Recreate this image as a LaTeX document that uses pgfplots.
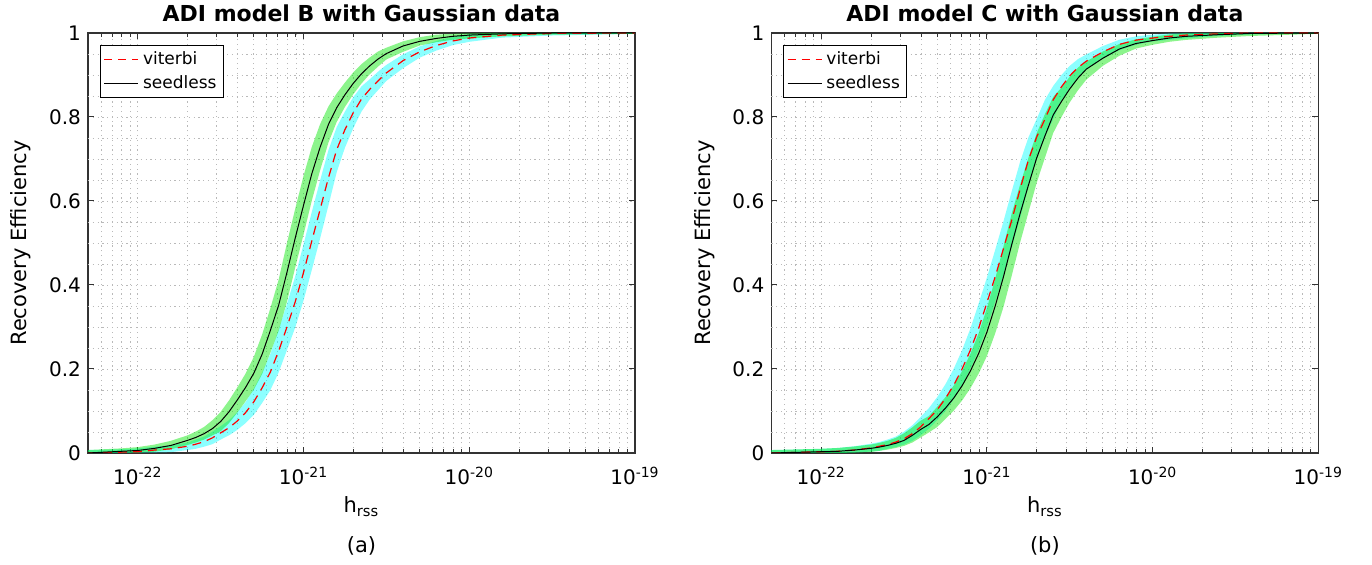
\documentclass[border=0pt]{standalone}
\usepackage{fontspec}
\setmainfont{DejaVu Sans}
\usepackage{pgfplots}
\usepackage{pgfplotstable}
\pgfplotsset{compat=1.18}

\definecolor{bandg}{RGB}{0,230,0}
\definecolor{bandc}{RGB}{0,255,255}

% recovery efficiency vs h_rss, S = seedless, V = viterbi, lo/hi = band edges
\pgfplotstableread{
h         S      Slo     Shi     V      Vlo     Vhi
5e-23     0.000  0.000   0.007   0.000  0.000   0.007
6.310e-23 0.002  0.000   0.009   0.001  0.000   0.008
7.943e-23 0.004  0.001   0.011   0.002  0.000   0.009
1e-22     0.006  0.001   0.014   0.003  0.001   0.011
1.259e-22 0.011  0.003   0.020   0.007  0.001   0.015
1.585e-22 0.018  0.009   0.029   0.010  0.002   0.018
1.995e-22 0.030  0.019   0.042   0.016  0.007   0.025
2.239e-22 0.037  0.025   0.051   0.021  0.010   0.032
2.512e-22 0.046  0.032   0.062   0.027  0.015   0.039
2.818e-22 0.058  0.042   0.078   0.036  0.021   0.051
3.162e-22 0.075  0.052   0.098   0.048  0.032   0.064
3.548e-22 0.098  0.071   0.125   0.060  0.042   0.078
3.981e-22 0.126  0.096   0.156   0.076  0.055   0.097
4.467e-22 0.156  0.123   0.189   0.096  0.071   0.121
5.012e-22 0.190  0.151   0.229   0.122  0.091   0.153
5.623e-22 0.235  0.188   0.282   0.155  0.119   0.191
6.310e-22 0.292  0.239   0.345   0.193  0.150   0.236
7.079e-22 0.352  0.291   0.413   0.243  0.192   0.294
7.943e-22 0.430  0.360   0.500   0.300  0.245   0.355
8.913e-22 0.512  0.442   0.582   0.360  0.299   0.421
1e-21     0.590  0.520   0.660   0.430  0.363   0.497
1.122e-21 0.665  0.601   0.729   0.505  0.436   0.574
1.259e-21 0.728  0.673   0.783   0.580  0.511   0.649
1.413e-21 0.782  0.739   0.825   0.655  0.589   0.721
1.585e-21 0.822  0.788   0.856   0.722  0.668   0.776
1.778e-21 0.853  0.824   0.882   0.770  0.727   0.813
1.995e-21 0.880  0.854   0.906   0.810  0.773   0.847
2.239e-21 0.903  0.880   0.926   0.843  0.813   0.873
2.512e-21 0.922  0.902   0.942   0.866  0.842   0.890
2.818e-21 0.938  0.920   0.956   0.886  0.864   0.908
3.162e-21 0.951  0.937   0.965   0.905  0.886   0.924
3.981e-21 0.969  0.955   0.980   0.934  0.916   0.949
5.012e-21 0.980  0.970   0.990   0.955  0.941   0.968
6.310e-21 0.987  0.978   0.996   0.970  0.958   0.981
7.943e-21 0.992  0.984   0.998   0.981  0.971   0.991
1e-20     0.995  0.987   0.999   0.988  0.979   0.997
1.585e-20 0.998  0.992   1.000   0.995  0.989   0.999
3.162e-20 1.000  0.996   1.000   0.999  0.994   1.000
1e-19     1.000  0.998   1.000   1.000  0.998   1.000
}\tabB

\pgfplotstableread{
h         S      Slo     Shi     V      Vlo     Vhi
5e-23     0.000  0.000   0.007   0.000  0.000   0.007
6.310e-23 0.001  0.000   0.008   0.001  0.000   0.008
7.943e-23 0.002  0.000   0.009   0.002  0.000   0.009
1e-22     0.003  0.000   0.010   0.003  0.000   0.010
1.259e-22 0.004  0.000   0.012   0.004  0.000   0.012
1.585e-22 0.007  0.001   0.0155  0.007  0.001   0.016
1.995e-22 0.011  0.0025  0.020   0.012  0.0035  0.022
2.239e-22 0.014  0.005   0.024   0.016  0.005   0.026
2.512e-22 0.018  0.008   0.029   0.020  0.010   0.032
2.818e-22 0.023  0.012   0.036   0.026  0.014   0.039
3.162e-22 0.030  0.017   0.047   0.034  0.020   0.051
3.548e-22 0.042  0.025   0.061   0.046  0.029   0.066
3.981e-22 0.056  0.037   0.077   0.062  0.042   0.086
4.467e-22 0.068  0.049   0.088   0.082  0.058   0.107
5.012e-22 0.086  0.062   0.110   0.103  0.078   0.133
5.623e-22 0.107  0.081   0.133   0.130  0.100   0.164
6.310e-22 0.131  0.101   0.161   0.162  0.128   0.201
7.079e-22 0.160  0.125   0.195   0.200  0.161   0.245
7.943e-22 0.195  0.154   0.236   0.245  0.200   0.296
8.913e-22 0.237  0.189   0.285   0.297  0.246   0.356
1e-21     0.288  0.231   0.345   0.358  0.299   0.418
1.122e-21 0.350  0.285   0.415   0.420  0.361   0.484
1.259e-21 0.420  0.348   0.492   0.487  0.423   0.552
1.413e-21 0.497  0.423   0.571   0.555  0.490   0.624
1.585e-21 0.570  0.501   0.639   0.628  0.559   0.693
1.778e-21 0.637  0.572   0.702   0.697  0.632   0.751
1.995e-21 0.702  0.643   0.761   0.752  0.698   0.795
2.239e-21 0.755  0.703   0.807   0.795  0.752   0.841
2.512e-21 0.805  0.762   0.848   0.841  0.795   0.874
2.818e-21 0.837  0.800   0.870   0.872  0.839   0.900
3.162e-21 0.867  0.835   0.896   0.898  0.869   0.922
3.548e-21 0.893  0.864   0.918   0.918  0.894   0.938
3.981e-21 0.914  0.889   0.932   0.933  0.913   0.949
5.012e-21 0.940  0.922   0.956   0.955  0.939   0.969
6.310e-21 0.962  0.946   0.974   0.973  0.959   0.984
7.943e-21 0.975  0.963   0.985   0.983  0.972   0.992
1e-20     0.982  0.972   0.991   0.988  0.980   0.996
1.259e-20 0.988  0.979   0.9965  0.992  0.9835  0.999
1.585e-20 0.992  0.9835  0.999   0.995  0.987   0.9995
2.512e-20 0.996  0.989   0.9995  0.998  0.993   1.000
3.981e-20 0.999  0.993   1.000   1.000  0.9965  1.000
1e-19     1.000  0.998   1.000   1.000  0.999   1.000
}\tabC

\newcommand\tickfont{\fontsize{10}{12}\selectfont}
\newcommand\labfont{\fontsize{10.5}{12.5}\selectfont}

% shared look of both panels
\pgfplotsset{
  scale only axis, width=273.5pt, height=210pt,
  xmin=5e-23, xmax=1e-19, ymin=0, ymax=1,
  xtick={1e-22,1e-21,1e-20,1e-19},
  xticklabels={10\textsuperscript{-22},10\textsuperscript{-21},10\textsuperscript{-20},10\textsuperscript{-19}},
  minor xtick={6e-23,7e-23,8e-23,9e-23,
    2e-22,3e-22,4e-22,5e-22,6e-22,7e-22,8e-22,9e-22,
    2e-21,3e-21,4e-21,5e-21,6e-21,7e-21,8e-21,9e-21,
    2e-20,3e-20,4e-20,5e-20,6e-20,7e-20,8e-20,9e-20},
  ytick={0,0.2,0.4,0.6,0.8,1},
  yticklabels={0,0.2,0.4,0.6,0.8,1},
  % minor y grid lines without tick marks
  extra y ticks={0.05,0.1,0.15,0.25,0.3,0.35,0.45,0.5,0.55,0.65,0.7,0.75,0.85,0.9,0.95},
  extra y tick labels={},
  extra y tick style={major tick length=0pt},
  grid=both,
  major grid style={gray!55, line width=0.4pt, dash pattern=on 0.6pt off 1.8pt},
  minor grid style={gray!55, line width=0.4pt, dash pattern=on 0.6pt off 1.8pt},
  axis line style={black!80, line width=0.6pt},
  tick style={black!80, line width=0.5pt},
  tick align=inside,
  major tick length=3pt, minor tick length=2.2pt,
  tick label style={font=\tickfont},
  xticklabel style={anchor=base, yshift=-16pt},
  every axis title shift=0pt,
  title style={at={(axis description cs:0.5,1)}, anchor=base, yshift=5.8pt,
    font=\bfseries\fontsize{11}{13}\selectfont},
  xlabel style={at={(axis description cs:0.5,0)}, anchor=base, yshift=-30pt, font=\labfont},
  ylabel style={at={(axis description cs:-0.112,0.5)}, anchor=base, font=\labfont},
  xlabel={h\textsubscript{rss}},
  ylabel={Recovery Efficiency},
  legend style={at={(0.022,0.971)}, anchor=north west, draw=black, line width=0.5pt,
    font=\fontsize{8.5}{10}\selectfont, inner xsep=1.5pt, inner ysep=1pt},
  legend cell align=left,
}

\begin{document}
\begin{tikzpicture}
\useasboundingbox (-44pt,-56pt) rectangle (642pt,226.5pt);

\begin{axis}[xmode=log, title={ADI model B with Gaussian data}]
  % bands stacked: lower edge, then band height
  \addplot[stack plots=y, draw=none, forget plot] table[x=h, y=Vlo] {\tabB};
  \addplot[stack plots=y, draw=none, forget plot, fill=bandc, fill opacity=0.45]
    table[x=h, y expr=\thisrow{Vhi}-\thisrow{Vlo}] {\tabB} \closedcycle;
  \addplot[stack plots=y, draw=none, forget plot]
    table[x=h, y expr=\thisrow{Slo}-\thisrow{Vhi}] {\tabB};
  \addplot[stack plots=y, draw=none, forget plot, fill=bandg, fill opacity=0.45]
    table[x=h, y expr=\thisrow{Shi}-\thisrow{Slo}] {\tabB} \closedcycle;
  \addplot[draw=red, line width=0.6pt, dash pattern=on 4.5pt off 3pt,
    legend image code/.code={\draw[draw=red, line width=0.7pt, dash pattern=on 4pt off 3pt]
      (0cm,0cm) -- (0.6cm,0cm);}] table[x=h, y=V] {\tabB};
  \addplot[draw=black, line width=0.5pt] table[x=h, y=S] {\tabB};
  \legend{viterbi, seedless}
  \coordinate (capA) at (axis description cs:0.5,0);
\end{axis}
\node[anchor=base, font=\labfont] at ([yshift=-50pt]capA) {(a)};

\begin{axis}[xmode=log, at={(341.7pt,0pt)}, anchor=south west,
  title={ADI model C with Gaussian data}]
  \addplot[stack plots=y, draw=none, forget plot] table[x=h, y=Vlo] {\tabC};
  \addplot[stack plots=y, draw=none, forget plot, fill=bandc, fill opacity=0.45]
    table[x=h, y expr=\thisrow{Vhi}-\thisrow{Vlo}] {\tabC} \closedcycle;
  \addplot[stack plots=y, draw=none, forget plot]
    table[x=h, y expr=\thisrow{Slo}-\thisrow{Vhi}] {\tabC};
  \addplot[stack plots=y, draw=none, forget plot, fill=bandg, fill opacity=0.45]
    table[x=h, y expr=\thisrow{Shi}-\thisrow{Slo}] {\tabC} \closedcycle;
  \addplot[draw=red, line width=0.6pt, dash pattern=on 4.5pt off 3pt,
    legend image code/.code={\draw[draw=red, line width=0.7pt, dash pattern=on 4pt off 3pt]
      (0cm,0cm) -- (0.6cm,0cm);}] table[x=h, y=V] {\tabC};
  \addplot[draw=black, line width=0.5pt] table[x=h, y=S] {\tabC};
  \legend{viterbi, seedless}
  \coordinate (capB) at (axis description cs:0.5,0);
\end{axis}
\node[anchor=base, font=\labfont] at ([yshift=-50pt]capB) {(b)};
\end{tikzpicture}
\end{document}
